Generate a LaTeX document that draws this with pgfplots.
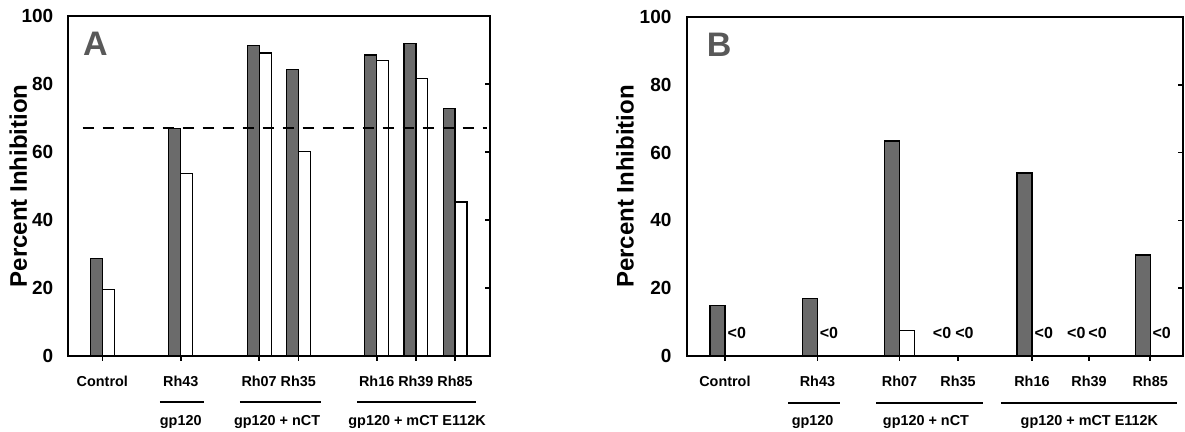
\documentclass[border=0pt]{standalone}
\usepackage{fontspec}
\setmainfont{Liberation Sans}
\usepackage{pgfplots}
\pgfplotsset{compat=1.18}
\tikzset{grp/.style={font=\fontsize{7.2}{8}\selectfont\bfseries},
 lt/.style={font=\fontsize{8}{9}\selectfont\bfseries},
 rt/.style={line width=0.8pt}}
\begin{document}
\begin{tikzpicture}
\useasboundingbox (0pt,0pt) rectangle (592.5pt,216pt);
\pgfplotsset{
 common/.style={
   scale only axis, clip=false, ymin=0, ymax=100,
   ytick={0,20,40,60,80,100}, yticklabels={0,20,40,60,80,100},
   ytick pos=left, y tick style={draw=none},
   yticklabel style={font=\fontsize{9.5}{10}\selectfont\bfseries, xshift=-1.5pt},
   xtick pos=bottom, tick align=outside, major tick length=2.5pt,
   x tick style={line width=0.8pt,black},
   xticklabel style={font=\fontsize{7.2}{8}\selectfont\bfseries, yshift=-4pt},
   axis line style={line width=1pt},
   ylabel={Percent Inhibition},
   ylabel style={font=\fontsize{12}{13}\selectfont\bfseries},
 },
 gbar/.style={ybar, fill=black!58, draw=black, line width=0.6pt},
 wbar/.style={ybar, fill=white, draw=black, line width=0.6pt},
}
% ---------------- Panel A ----------------
\begin{axis}[common, at={(34.15pt,38pt)}, anchor=south west,
  width=211pt, height=170pt,
  xmin=-0.868, xmax=9.898,
  xtick={0,2,4,5,7,8,9},
  xticklabels={Control,Rh43,Rh07,Rh35,Rh16,Rh39,Rh85},
  ylabel style={at={(axis description cs:-0.1185,0.5)}, anchor=center},
]
\addplot[gbar, bar width=0.306, bar shift=-0.153] coordinates
 {(0,28.7) (2,67.0) (4,91.4) (5,84.3) (7,88.5) (8,91.9) (9,72.8)};
\addplot[wbar, bar width=0.306, bar shift=0.153] coordinates
 {(0,19.5) (2,53.7) (4,89.1) (5,60.1) (7,87.0) (8,81.6) (9,45.3)};
\addplot[sharp plot, no marks, line width=1pt, dash pattern=on 5.5pt off 4.5pt] coordinates
 {(-0.5,67) (9.81,67)};
\draw[rt] (rel axis cs:1,0.2) -- ([xshift=-2.5pt]rel axis cs:1,0.2);
\draw[rt] (rel axis cs:1,0.4) -- ([xshift=-2.5pt]rel axis cs:1,0.4);
\draw[rt] (rel axis cs:1,0.6) -- ([xshift=-2.5pt]rel axis cs:1,0.6);
\draw[rt] (rel axis cs:1,0.8) -- ([xshift=-2.5pt]rel axis cs:1,0.8);
\draw[line width=1pt] (axis cs:1.47,-13.5) -- (axis cs:2.60,-13.5);
\draw[line width=1pt] (axis cs:3.51,-13.5) -- (axis cs:5.57,-13.5);
\draw[line width=1pt] (axis cs:6.51,-13.5) -- (axis cs:9.53,-13.5);
\node[grp] at (axis cs:2.0,-19.4) {gp120};
\node[grp] at (axis cs:4.46,-19.4) {gp120 + nCT};
\node[grp] at (axis cs:8.03,-19.4) {gp120 + mCT E112K};
\node[anchor=north west, inner sep=0pt, font=\fontsize{17}{17}\selectfont\bfseries, text=black!65]
  at (axis description cs:0.034,0.955) {A};
\end{axis}
% ---------------- Panel B ----------------
\begin{axis}[common, at={(343.25pt,38pt)}, anchor=south west,
  width=248.25pt, height=169.5pt,
  xmin=2.32, xmax=15.63,
  xtick={3.35,5.83,8.03,9.60,11.58,13.11,14.75},
  xticklabels={Control,Rh43,Rh07,Rh35,Rh16,Rh39,Rh85},
  ylabel style={at={(axis description cs:-0.124,0.5)}, anchor=center},
]
\addplot[gbar, bar width=0.40, bar shift=-0.20] coordinates
 {(3.35,14.9) (5.83,16.9) (8.03,63.4) (11.58,54.0) (14.75,29.8)};
\addplot[wbar, bar width=0.40, bar shift=0.20] coordinates
 {(8.03,7.5)};
\draw[rt] (rel axis cs:1,0.2) -- ([xshift=-2.5pt]rel axis cs:1,0.2);
\draw[rt] (rel axis cs:1,0.4) -- ([xshift=-2.5pt]rel axis cs:1,0.4);
\draw[rt] (rel axis cs:1,0.6) -- ([xshift=-2.5pt]rel axis cs:1,0.6);
\draw[rt] (rel axis cs:1,0.8) -- ([xshift=-2.5pt]rel axis cs:1,0.8);
\node[lt] at (axis cs:3.67,6.7) {<0};
\node[lt] at (axis cs:6.14,6.7) {<0};
\node[lt] at (axis cs:9.17,6.7) {<0};
\node[lt] at (axis cs:9.77,6.7) {<0};
\node[lt] at (axis cs:11.90,6.7) {<0};
\node[lt] at (axis cs:12.77,6.7) {<0};
\node[lt] at (axis cs:13.34,6.7) {<0};
\node[lt] at (axis cs:15.06,6.7) {<0};
\draw[line width=1pt] (axis cs:5.05,-14.0) -- (axis cs:6.43,-14.0);
\draw[line width=1pt] (axis cs:7.40,-14.0) -- (axis cs:10.28,-14.0);
\draw[line width=1pt] (axis cs:10.75,-14.0) -- (axis cs:15.48,-14.0);
\node[grp] at (axis cs:5.70,-19.4) {gp120};
\node[grp] at (axis cs:8.74,-19.4) {gp120 + nCT};
\node[grp] at (axis cs:13.12,-19.4) {gp120 + mCT E112K};
\node[anchor=north west, inner sep=0pt, font=\fontsize{17}{17}\selectfont\bfseries, text=black!65]
  at (axis description cs:0.04,0.955) {B};
\end{axis}
\end{tikzpicture}
\end{document}
